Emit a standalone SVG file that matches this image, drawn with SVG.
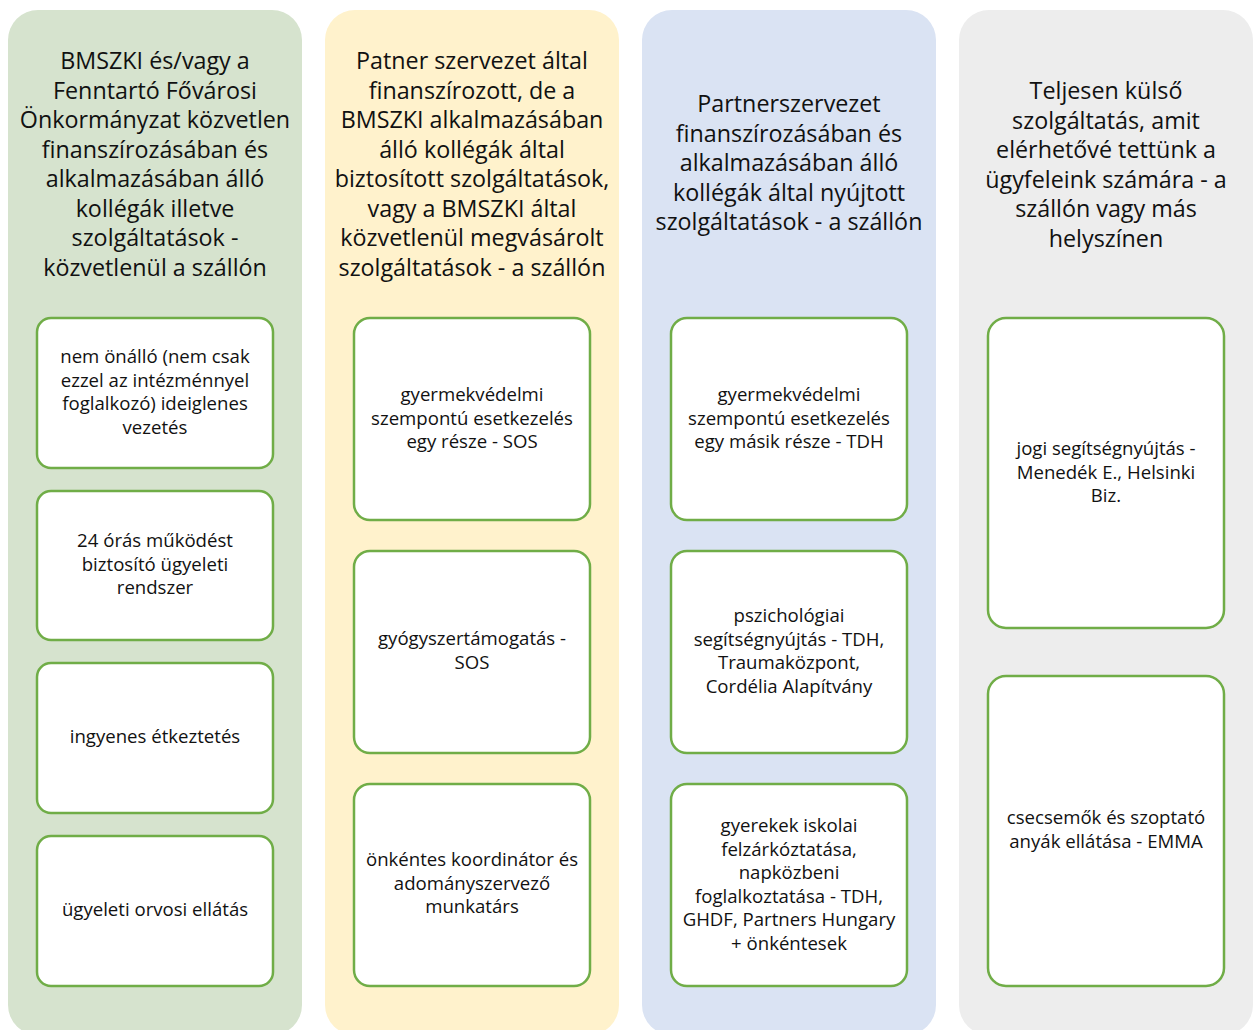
<svg xmlns="http://www.w3.org/2000/svg" width="1253" height="1030" viewBox="0 0 1253 1030">
<style>
.col{stroke:none}
.box{fill:#ffffff;stroke:#70ad47;stroke-width:2.5}
.t{font-family:"Open Sans","Liberation Sans",sans-serif;font-size:23.3px;fill:#111;text-anchor:middle}
.b{font-family:"Open Sans","Liberation Sans",sans-serif;font-size:18.6px;fill:#111;text-anchor:middle}
</style>
<rect width="1253" height="1030" fill="#ffffff"/>
<g id="col1">
<rect class="col" x="8" y="10" width="294" height="1025" rx="30" fill="#d6e3ce"/>
<text class="t"><tspan x="155" y="69">BMSZKI és/vagy a</tspan><tspan x="155" y="98.5">Fenntartó Fővárosi</tspan><tspan x="155" y="128">Önkormányzat közvetlen</tspan><tspan x="155" y="157.5">finanszírozásában és</tspan><tspan x="155" y="187">alkalmazásában álló</tspan><tspan x="155" y="216.5">kollégák illetve</tspan><tspan x="155" y="246">szolgáltatások -</tspan><tspan x="155" y="275.5">közvetlenül a szállón</tspan></text>
</g>
<g id="col2">
<rect class="col" x="325" y="10" width="294" height="1025" rx="30" fill="#fff2cc"/>
<text class="t"><tspan x="472" y="69">Patner szervezet által</tspan><tspan x="472" y="98.5">finanszírozott, de a</tspan><tspan x="472" y="128">BMSZKI alkalmazásában</tspan><tspan x="472" y="157.5">álló kollégák által</tspan><tspan x="472" y="187">biztosított szolgáltatások,</tspan><tspan x="472" y="216.5">vagy a BMSZKI által</tspan><tspan x="472" y="246">közvetlenül megvásárolt</tspan><tspan x="472" y="275.5">szolgáltatások - a szállón</tspan></text>
</g>
<g id="col3">
<rect class="col" x="642" y="10" width="294" height="1025" rx="30" fill="#dae3f3"/>
<text class="t"><tspan x="789" y="112">Partnerszervezet</tspan><tspan x="789" y="141.5">finanszírozásában és</tspan><tspan x="789" y="171">alkalmazásában álló</tspan><tspan x="789" y="200.5">kollégák által nyújtott</tspan><tspan x="789" y="230">szolgáltatások - a szállón</tspan></text>
</g>
<g id="col4">
<rect class="col" x="959" y="10" width="294" height="1025" rx="30" fill="#ededed"/>
<text class="t"><tspan x="1106" y="99">Teljesen külső</tspan><tspan x="1106" y="128.5">szolgáltatás, amit</tspan><tspan x="1106" y="158">elérhetővé tettünk a</tspan><tspan x="1106" y="187.5">ügyfeleink számára - a</tspan><tspan x="1106" y="217">szállón vagy más</tspan><tspan x="1106" y="246.5">helyszínen</tspan></text>
</g>

<g id="n1a"><rect class="box" x="37" y="318" width="236" height="150" rx="14"/>
<text class="b"><tspan x="155" y="363">nem önálló (nem csak</tspan><tspan x="155" y="386.5">ezzel az intézménnyel</tspan><tspan x="155" y="410">foglalkozó) ideiglenes</tspan><tspan x="155" y="433.5">vezetés</tspan></text></g>
<g id="n1b"><rect class="box" x="37" y="491" width="236" height="149" rx="14"/>
<text class="b"><tspan x="155" y="547">24 órás működést</tspan><tspan x="155" y="570.5">biztosító ügyeleti</tspan><tspan x="155" y="594">rendszer</tspan></text></g>
<g id="n1c"><rect class="box" x="37" y="663" width="236" height="150" rx="14"/>
<text class="b"><tspan x="155" y="743">ingyenes étkeztetés</tspan></text></g>
<g id="n1d"><rect class="box" x="37" y="836" width="236" height="150" rx="14"/>
<text class="b"><tspan x="155" y="916">ügyeleti orvosi ellátás</tspan></text></g>

<g id="n2a"><rect class="box" x="354" y="318" width="236" height="202" rx="16"/>
<text class="b"><tspan x="472" y="401">gyermekvédelmi</tspan><tspan x="472" y="424.5">szempontú esetkezelés</tspan><tspan x="472" y="448">egy része - SOS</tspan></text></g>
<g id="n2b"><rect class="box" x="354" y="551" width="236" height="202" rx="16"/>
<text class="b"><tspan x="472" y="645">gyógyszertámogatás -</tspan><tspan x="472" y="668.5">SOS</tspan></text></g>
<g id="n2c"><rect class="box" x="354" y="784" width="236" height="202" rx="16"/>
<text class="b"><tspan x="472" y="866">önkéntes koordinátor és</tspan><tspan x="472" y="889.5">adományszervező</tspan><tspan x="472" y="913">munkatárs</tspan></text></g>

<g id="n3a"><rect class="box" x="671" y="318" width="236" height="202" rx="16"/>
<text class="b"><tspan x="789" y="401">gyermekvédelmi</tspan><tspan x="789" y="424.5">szempontú esetkezelés</tspan><tspan x="789" y="448">egy másik része - TDH</tspan></text></g>
<g id="n3b"><rect class="box" x="671" y="551" width="236" height="202" rx="16"/>
<text class="b"><tspan x="789" y="622">pszichológiai</tspan><tspan x="789" y="645.5">segítségnyújtás - TDH,</tspan><tspan x="789" y="669">Traumaközpont,</tspan><tspan x="789" y="692.5">Cordélia Alapítvány</tspan></text></g>
<g id="n3c"><rect class="box" x="671" y="784" width="236" height="202" rx="16"/>
<text class="b"><tspan x="789" y="832">gyerekek iskolai</tspan><tspan x="789" y="855.5">felzárkóztatása,</tspan><tspan x="789" y="879">napközbeni</tspan><tspan x="789" y="902.5">foglalkoztatása - TDH,</tspan><tspan x="789" y="926">GHDF, Partners Hungary</tspan><tspan x="789" y="949.5">+ önkéntesek</tspan></text></g>

<g id="n4a"><rect class="box" x="988" y="318" width="236" height="310" rx="18"/>
<text class="b"><tspan x="1106" y="455">jogi segítségnyújtás -</tspan><tspan x="1106" y="478.5">Menedék E., Helsinki</tspan><tspan x="1106" y="502">Biz.</tspan></text></g>
<g id="n4b"><rect class="box" x="988" y="676" width="236" height="310" rx="18"/>
<text class="b"><tspan x="1106" y="824">csecsemők és szoptató</tspan><tspan x="1106" y="847.5">anyák ellátása - EMMA</tspan></text></g>
<g id="connectors"></g>
</svg>
